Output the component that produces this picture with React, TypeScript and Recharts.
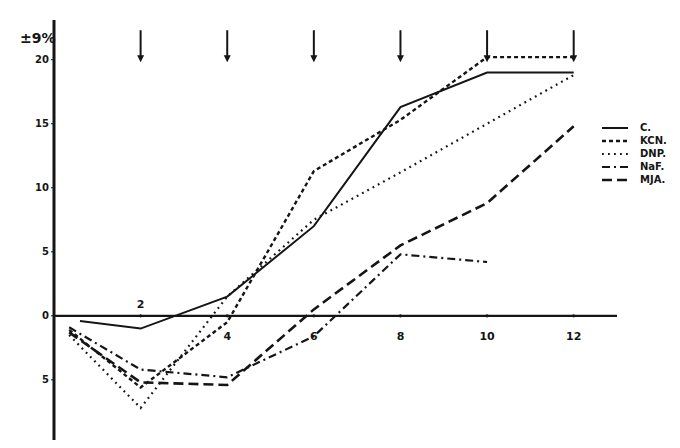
import React from "react";
import {
  LineChart,
  Line,
  XAxis,
  YAxis,
  ReferenceLine,
  ReferenceDot,
} from "recharts";

// minutes (first two rows are the hand-drawn starting points)
const times = [0.35, 0.6, 2, 4, 6, 8, 10, 12];
const cValues = [null, -0.4, -1, 1.5, 7, 16.3, 19, 19];
const kcnValues = [-1.1, null, -5.6, -0.5, 11.3, 15.3, 20.2, 20.2];
const dnpValues = [-1.5, null, -7.2, 1.5, 7.5, 11.2, 15, 18.8];
const nafValues = [-0.9, null, -4.2, -4.8, -1.6, 4.8, 4.2, null];
const mjaValues = [-1.3, null, -5.2, -5.4, 0.5, 5.5, 8.8, 14.8];

const yTicks = [-5, 0, 5, 10, 15, 20];
const xTicks = [2, 4, 6, 8, 10, 12];
const arrowTimes = [2, 4, 6, 8, 10, 12];

const INK = "#151515";
const FONT = "'DejaVu Sans', sans-serif";

const series = [
  { key: "C", label: "C.", dash: undefined, width: 2 },
  { key: "KCN", label: "KCN.", dash: "4 3", width: 2.4 },
  { key: "DNP", label: "DNP.", dash: "1.8 4.2", width: 2.2 },
  { key: "NaF", label: "NaF.", dash: "8 4 2 4", width: 2.2 },
  { key: "MJA", label: "MJA.", dash: "10 5", width: 2.6 },
];

const data = times.map((t, i) => ({
  t,
  C: cValues[i],
  KCN: kcnValues[i],
  DNP: dnpValues[i],
  NaF: nafValues[i],
  MJA: mjaValues[i],
}));

function Arrow(props: any) {
  const { x1, y1, x2, y2 } = props;
  return (
    <g>
      <line x1={x1} y1={y1} x2={x2} y2={y2 - 5} stroke={INK} strokeWidth={2} />
      <path d={`M${x2 - 3.5},${y2 - 7}L${x2 + 3.5},${y2 - 7}L${x2},${y2}Z`} fill={INK} />
    </g>
  );
}

function XTick({ cx, cy, value }: any) {
  const above = value === 2;
  return (
    <g>
      <circle cx={cx} cy={cy} r={1.6} fill={INK} />
      <text
        x={cx}
        y={above ? cy - 8 : cy + 24}
        textAnchor="middle"
        fontSize={11}
        fontWeight="bold"
        fontFamily={FONT}
        fill={INK}
      >
        {value}
      </text>
    </g>
  );
}

function Legend() {
  return (
    <div style={{ position: "absolute", left: 592, top: 113, fontFamily: FONT }}>
      {series.map((s) => (
        <div key={s.key} style={{ display: "flex", alignItems: "center", height: 13 }}>
          <svg width={30} height={8}>
            <line
              x1={2}
              y1={4}
              x2={28}
              y2={4}
              stroke={INK}
              strokeWidth={s.width}
              strokeDasharray={s.dash}
            />
          </svg>
          <span style={{ fontSize: 10, fontWeight: "bold", marginLeft: 10, color: INK }}>
            {s.label}
          </span>
        </div>
      ))}
    </div>
  );
}

export default function App() {
  return (
    <div style={{ position: "relative", width: 672, height: 440, background: "#fff" }}>
      <LineChart
        width={672}
        height={440}
        data={data}
        margin={{ top: 12, right: 63, bottom: 8, left: 0 }}
      >
        <XAxis type="number" dataKey="t" domain={[0, 13]} hide />
        <YAxis
          type="number"
          domain={[-9.7, 23.1]}
          ticks={yTicks}
          allowDataOverflow
          width={46}
          tickFormatter={(v: number) => String(Math.abs(v))}
          axisLine={{ stroke: INK, strokeWidth: 3 }}
          tickLine={{ stroke: INK }}
          tickSize={3}
          tick={{ fontSize: 10, fontWeight: "bold", fill: INK, fontFamily: FONT }}
        />
        <ReferenceLine y={0} stroke={INK} strokeWidth={2.2} />
        {arrowTimes.map((t) => (
          <ReferenceLine
            key={`a${t}`}
            segment={[
              { x: t, y: 22.3 },
              { x: t, y: 19.8 },
            ]}
            shape={(p: any) => <Arrow {...p} />}
          />
        ))}
        {xTicks.map((t) => (
          <ReferenceDot
            key={`x${t}`}
            x={t}
            y={0}
            r={0}
            shape={(p: any) => <XTick {...p} value={t} />}
          />
        ))}
        {series.map((s) => (
          <Line
            key={s.key}
            dataKey={s.key}
            type="linear"
            stroke={INK}
            strokeWidth={s.width}
            strokeDasharray={s.dash}
            dot={false}
            connectNulls
            isAnimationActive={false}
          />
        ))}
      </LineChart>
      <div
        style={{
          position: "absolute",
          left: 12,
          top: 22,
          fontFamily: FONT,
          fontSize: 14,
          fontWeight: "bold",
          color: INK,
          lineHeight: "16px",
        }}
      >
        ±9%
      </div>
      <Legend />
    </div>
  );
}
